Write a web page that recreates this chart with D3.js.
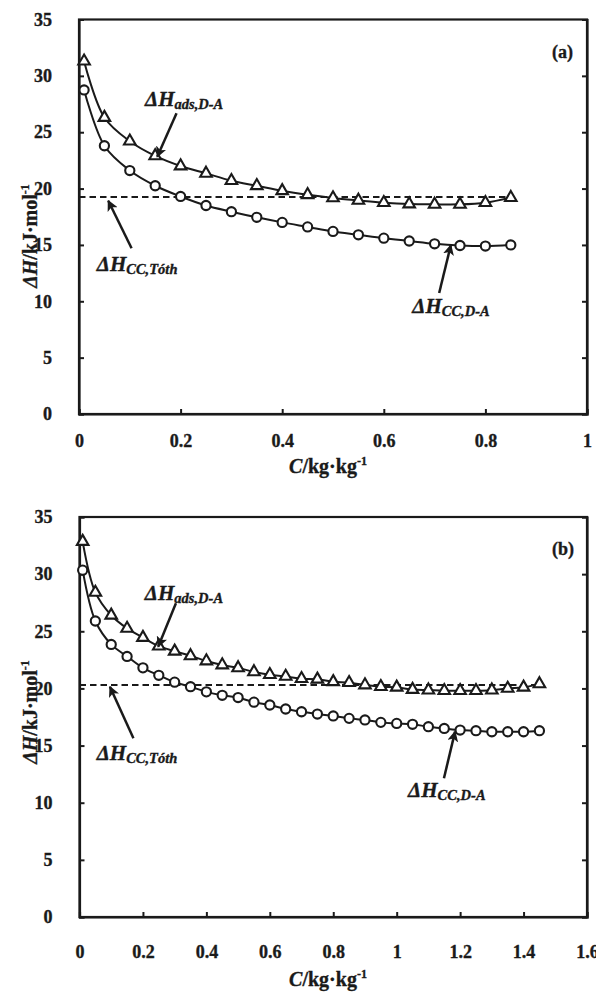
<!DOCTYPE html>
<html><head><meta charset="utf-8">
<script src="https://cdn.jsdelivr.net/npm/d3@7"></script>
<style>
html,body{margin:0;padding:0;background:#fff;}
text{font-family:"Liberation Serif","Times New Roman",serif;font-weight:bold;fill:#1a1a1a;stroke:#1a1a1a;stroke-width:0.35px;}
</style></head>
<body><div id="chart"></div>
<script>
// ---- data ----
const xTicksA = [0, 0.2, 0.4, 0.6, 0.8, 1];
const xTicksB = [0, 0.2, 0.4, 0.6, 0.8, 1, 1.2, 1.4, 1.6];
const yTicks = [0, 5, 10, 15, 20, 25, 30, 35];

const cA = [0.01, 0.05, 0.1, 0.15, 0.2, 0.25, 0.3, 0.35, 0.4, 0.45, 0.5, 0.55, 0.6, 0.65, 0.7, 0.75, 0.8, 0.85];
const adsA = [31.3, 26.3, 24.2, 22.9, 22.0, 21.35, 20.7, 20.25, 19.8, 19.45, 19.17, 18.95, 18.75, 18.63, 18.6, 18.6, 18.75, 19.2];
const ccA = [28.75, 23.8, 21.6, 20.25, 19.3, 18.5, 17.95, 17.45, 17.0, 16.6, 16.2, 15.9, 15.6, 15.35, 15.1, 14.95, 14.9, 15.0];
const tothA = 19.25;
const tothRangeA = [0, 0.85];

const cB = [0.01, 0.05, 0.1, 0.15, 0.2, 0.25, 0.3, 0.35, 0.4, 0.45, 0.5, 0.55, 0.6, 0.65, 0.7, 0.75, 0.8, 0.85, 0.9, 0.95, 1.0, 1.05, 1.1, 1.15, 1.2, 1.25, 1.3, 1.35, 1.4, 1.45];
const adsB = [32.85, 28.4, 26.4, 25.25, 24.45, 23.7, 23.25, 22.85, 22.4, 22.05, 21.8, 21.45, 21.2, 21.05, 20.85, 20.8, 20.58, 20.5, 20.3, 20.15, 20.1, 19.9, 19.85, 19.8, 19.8, 19.8, 19.85, 20.0, 20.1, 20.4];
const ccB = [30.35, 25.9, 23.85, 22.8, 21.8, 21.15, 20.55, 20.15, 19.7, 19.4, 19.2, 18.8, 18.55, 18.2, 17.96, 17.76, 17.59, 17.38, 17.24, 17.03, 16.94, 16.86, 16.65, 16.5, 16.36, 16.3, 16.21, 16.21, 16.21, 16.3];
const tothB = 20.3;
const tothRangeB = [0, 1.45];

const ink = "#1a1a1a";
const svg = d3.select("#chart").append("svg").attr("width", 596).attr("height", 992);

const defs = svg.append("defs");
defs.append("marker").attr("id", "ah").attr("viewBox", "0 0 10 10")
  .attr("refX", 9).attr("refY", 5).attr("markerWidth", 4.4).attr("markerHeight", 4.4)
  .attr("markerUnits", "strokeWidth").attr("orient", "auto")
  .append("path").attr("d", "M0,0 L10,5 L0,10 L2.5,5 Z").attr("fill", ink);

function drawPanel(cfg) {
  const x = d3.scaleLinear().domain(cfg.xDomain).range([cfg.left, cfg.right]);
  const y = d3.scaleLinear().domain([0, 35]).range([cfg.bottom, cfg.top]);
  const g = svg.append("g");

  // frame
  g.append("rect").attr("x", cfg.left).attr("y", cfg.top)
    .attr("width", cfg.right - cfg.left).attr("height", cfg.bottom - cfg.top)
    .attr("fill", "none").attr("stroke", ink).attr("stroke-width", 2.2);

  const yl = g.append("g").attr("transform", `translate(${cfg.left},0)`)
    .call(d3.axisLeft(y).tickValues(yTicks).tickSize(-5).tickPadding(27).tickFormat(d3.format("d")));
  const yr = g.append("g").attr("transform", `translate(${cfg.right},0)`)
    .call(d3.axisRight(y).tickValues(yTicks).tickSize(-5).tickFormat(""));
  const xb = g.append("g").attr("transform", `translate(0,${cfg.bottom})`)
    .call(d3.axisBottom(x).tickValues(cfg.xTicks).tickSize(-5).tickPadding(cfg.xPad).tickFormat(d => String(+d.toFixed(1))));
  [yl, yr, xb].forEach(a => {
    a.select(".domain").attr("stroke", ink).attr("stroke-width", 2.2);
    a.selectAll(".tick line").attr("stroke", ink).attr("stroke-width", 2);
    a.selectAll("text").attr("font-size", 18).attr("fill", ink)
      .attr("font-family", '"Liberation Serif",serif').attr("font-weight", "bold");
  });

  // toth dashed line
  g.append("line").attr("x1", x(cfg.tothRange[0])).attr("x2", x(cfg.tothRange[1]))
    .attr("y1", y(cfg.toth)).attr("y2", y(cfg.toth))
    .attr("stroke", ink).attr("stroke-width", 2).attr("stroke-dasharray", "6.5,4");

  const line = d3.line().curve(d3.curveCatmullRom.alpha(0.5)).x(d => x(d[0])).y(d => y(d[1]));
  const ads = cfg.c.map((c, i) => [c, cfg.ads[i]]);
  const cc = cfg.c.map((c, i) => [c, cfg.cc[i]]);
  [ads, cc].forEach(s => g.append("path").datum(s).attr("d", line)
    .attr("fill", "none").attr("stroke", ink).attr("stroke-width", 2));

  g.selectAll(".circ").data(cc).join("circle").attr("class", "circ")
    .attr("cx", d => x(d[0])).attr("cy", d => y(d[1])).attr("r", 4.6)
    .attr("fill", "#fff").attr("stroke", ink).attr("stroke-width", 2.1);
  const tri = d3.symbol().type(d3.symbolTriangle).size(58);
  g.selectAll(".tri").data(ads).join("path").attr("class", "tri")
    .attr("transform", d => `translate(${x(d[0])},${y(d[1])})`).attr("d", tri)
    .attr("fill", "#fff").attr("stroke", ink).attr("stroke-width", 2.1);

  // annotations
  function note(pos, sub) {
    const t = g.append("text").attr("x", x(pos[0])).attr("y", y(pos[1]))
      .attr("font-style", "italic");
    t.append("tspan").attr("font-size", 21).text("ΔH");
    t.append("tspan").attr("font-size", 14.5).attr("dy", 3).text(sub);
  }
  function arrow(from, to) {
    g.append("line").attr("x1", x(from[0])).attr("y1", y(from[1]))
      .attr("x2", x(to[0])).attr("y2", y(to[1]))
      .attr("stroke", ink).attr("stroke-width", 2.5).attr("marker-end", "url(#ah)");
  }
  cfg.notes.forEach(n => { note(n.text, n.sub); arrow(n.from, n.to); });

  g.append("text").attr("x", x(cfg.tag[0])).attr("y", y(cfg.tag[1]))
    .attr("text-anchor", "end").attr("font-size", 18).text(cfg.tagText);

  // axis titles
  const xt = g.append("text").attr("x", cfg.xTitle[0]).attr("y", cfg.xTitle[1])
    .attr("text-anchor", "middle").attr("font-size", 20);
  xt.append("tspan").attr("font-style", "italic").text("C");
  xt.append("tspan").text("/kg·kg");
  xt.append("tspan").attr("font-size", 12).attr("dy", -8).text("-1");

  const ytt = g.append("text").attr("transform", `translate(${cfg.yTitle[0]},${cfg.yTitle[1]}) rotate(-90)`)
    .attr("text-anchor", "middle").attr("font-size", 20);
  ytt.append("tspan").attr("font-style", "italic").text("ΔH");
  ytt.append("tspan").text("/kJ·mol");
  ytt.append("tspan").attr("font-size", 12).attr("dy", -8).text("-1");
}

drawPanel({
  xDomain: [0, 1], xTicks: xTicksA, left: 79, right: 587, top: 19.5, bottom: 414, xPad: 20,
  c: cA, ads: adsA, cc: ccA, toth: tothA, tothRange: tothRangeA,
  notes: [
    { text: [0.13, 27.3], sub: "ads,D-A", from: [0.192, 26.68], to: [0.154, 22.83] },
    { text: [0.035, 12.71], sub: "CC,Tóth", from: [0.1035, 14.7], to: [0.0576, 18.92] },
    { text: [0.656, 8.96], sub: "CC,D-A", from: [0.709, 10.73], to: [0.732, 14.99] }
  ],
  tag: [0.9725, 31.58], tagText: "(a)",
  xTitle: [328, 473], yTitle: [37, 236]
});

drawPanel({
  xDomain: [0, 1.6], xTicks: xTicksB, left: 79.5, right: 587, top: 517, bottom: 917, xPad: 28,
  c: cB, ads: adsB, cc: ccB, toth: tothB, tothRange: tothRangeB,
  notes: [
    { text: [0.206, 27.74], sub: "ads,D-A", from: [0.304, 27.45], to: [0.248, 23.65] },
    { text: [0.054, 13.74], sub: "CC,Tóth", from: [0.17, 15.64], to: [0.096, 20.15] },
    { text: [1.036, 10.5], sub: "CC,D-A", from: [1.149, 12.14], to: [1.184, 16.22] }
  ],
  tag: [1.559, 31.68], tagText: "(b)",
  xTitle: [328, 986], yTitle: [37, 712]
});
</script></body></html>
